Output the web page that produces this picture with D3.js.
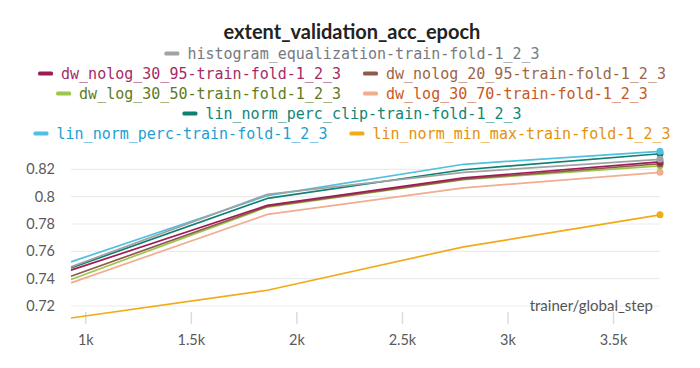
<!DOCTYPE html>
<html>
<head>
<meta charset="utf-8">
<script src="https://cdn.jsdelivr.net/npm/d3@7"></script>
<style>
  body { margin: 0; background: #fff; }
  svg { display: block; }
</style>
</head>
<body>
<svg width="700" height="368"></svg>
<script>
var steps = [930, 1860, 2790, 3720];

var names = [
    "histogram_equalization-train-fold-1_2_3",
    "dw_nolog_30_95-train-fold-1_2_3",
    "dw_nolog_20_95-train-fold-1_2_3",
    "dw_log_30_50-train-fold-1_2_3",
    "dw_log_30_70-train-fold-1_2_3",
    "lin_norm_perc_clip-train-fold-1_2_3",
    "lin_norm_perc-train-fold-1_2_3",
    "lin_norm_min_max-train-fold-1_2_3"
];

var histogram_eq   = [0.7486, 0.8017, 0.8178, 0.8273];
var dw_nolog_30_95 = [0.7462, 0.7936, 0.8138, 0.8254];
var dw_nolog_20_95 = [0.7418, 0.7929, 0.8129, 0.8241];
var dw_log_30_50   = [0.7394, 0.7924, 0.8125, 0.8226];
var dw_log_30_70   = [0.7369, 0.7870, 0.8065, 0.8178];
var lin_perc_clip  = [0.7479, 0.7987, 0.8197, 0.8314];
var lin_perc       = [0.7523, 0.8007, 0.8237, 0.8332];
var lin_min_max    = [0.7112, 0.7315, 0.7633, 0.7867];

var values = [histogram_eq, dw_nolog_30_95, dw_nolog_20_95, dw_log_30_50,
              dw_log_30_70, lin_perc_clip, lin_perc, lin_min_max];

var lineColors = ["#a0a2a5", "#9c1c56", "#8d5b4a", "#9dc64c", "#f0ad90", "#0d806f", "#4fc0df", "#f0ab18"];
var textColors = ["#767a80", "#a52a65", "#9c6548", "#5d7b1c", "#c8581e", "#0f8676", "#1ea0d2", "#e3920a"];

// legend rows (indices into names)
var legendRows = [[0], [1, 2], [3, 4], [5], [6, 7]];

var xTicks = [1000, 1500, 2000, 2500, 3000, 3500];
var yTicks = [0.72, 0.74, 0.76, 0.78, 0.8, 0.82];

var svg = d3.select("svg");

var allVals = d3.merge(values);
var x = d3.scaleLinear().domain(d3.extent(steps)).range([71, 660]);
var y = d3.scaleLinear().domain(d3.extent(allVals)).range([318, 151.3]);

// title
svg.append("text")
    .attr("x", 352)
    .attr("y", 39)
    .attr("text-anchor", "middle")
    .attr("font-family", "Lato, sans-serif")
    .attr("font-weight", 700)
    .attr("font-size", 20)
    .attr("fill", "#222")
    .text("extent_validation_acc_epoch");

// legend
var legend = svg.append("g")
        .attr("font-family", "'DejaVu Sans Mono', monospace")
        .attr("font-size", 15);

legendRows.forEach(function (row, r) {
    var rowG = legend.append("g");
    var cx = 0;
    row.forEach(function (idx, k) {
        if (k > 0) cx += 22;
        rowG.append("rect")
            .attr("x", cx)
            .attr("y", -2)
            .attr("width", 15)
            .attr("height", 4)
            .attr("rx", 1.5)
            .attr("fill", lineColors[idx]);
        var t = rowG.append("text")
            .attr("x", cx + 23)
            .attr("y", 0)
            .attr("dy", "0.35em")
            .attr("fill", textColors[idx])
            .text(names[idx]);
        cx += 23 + t.node().getComputedTextLength();
    });
    rowG.attr("transform", "translate(" + (352 - cx / 2) + "," + (53.5 + r * 20) + ")");
});

// grid
svg.append("g")
    .selectAll("line")
    .data(yTicks)
    .enter().append("line")
    .attr("x1", 71)
    .attr("x2", 660)
    .attr("y1", function (d) { return y(d); })
    .attr("y2", function (d) { return y(d); })
    .attr("stroke", "#ececec")
    .attr("stroke-width", 1.2);

// y labels
svg.append("g")
    .attr("font-family", "Lato, sans-serif")
    .attr("font-size", 14.5)
    .attr("fill", "#5a5a5a")
    .attr("text-anchor", "end")
    .selectAll("text")
    .data(yTicks)
    .enter().append("text")
    .attr("x", 55)
    .attr("y", function (d) { return y(d); })
    .attr("dy", "0.35em")
    .text(function (d) { return d3.format("~g")(d); });

// x ticks
var xAxis = svg.append("g");
xAxis.selectAll("line")
    .data(xTicks)
    .enter().append("line")
    .attr("x1", function (d) { return x(d); })
    .attr("x2", function (d) { return x(d); })
    .attr("y1", 312)
    .attr("y2", 324)
    .attr("stroke", "#dcdcdc")
    .attr("stroke-width", 1.5);
xAxis.selectAll("text")
    .data(xTicks)
    .enter().append("text")
    .attr("x", function (d) { return x(d); })
    .attr("y", 345)
    .attr("text-anchor", "middle")
    .attr("font-family", "Lato, sans-serif")
    .attr("font-size", 14.5)
    .attr("fill", "#5a5a5a")
    .text(function (d) { return (d / 1000) + "k"; });

svg.append("text")
    .attr("x", 653)
    .attr("y", 311)
    .attr("text-anchor", "end")
    .attr("font-family", "Lato, sans-serif")
    .attr("font-size", 15)
    .attr("fill", "#555")
    .text("trainer/global_step");

// lines
var line = d3.line()
        .x(function (d, i) { return x(steps[i]); })
        .y(function (d) { return y(d); });

var drawOrder = [7, 4, 3, 2, 1, 5, 6, 0];
var series = svg.append("g")
        .selectAll("g")
        .data(drawOrder)
        .enter().append("g");

series.append("path")
    .attr("d", function (i) { return line(values[i]); })
    .attr("fill", "none")
    .attr("stroke", function (i) { return lineColors[i]; })
    .attr("stroke-width", 1.7)
    .attr("stroke-linejoin", "round");

series.append("circle")
    .attr("cx", x(steps[steps.length - 1]))
    .attr("cy", function (i) { return y(values[i][steps.length - 1]); })
    .attr("r", 3.5)
    .attr("fill", function (i) { return lineColors[i]; });
</script>
</body>
</html>
